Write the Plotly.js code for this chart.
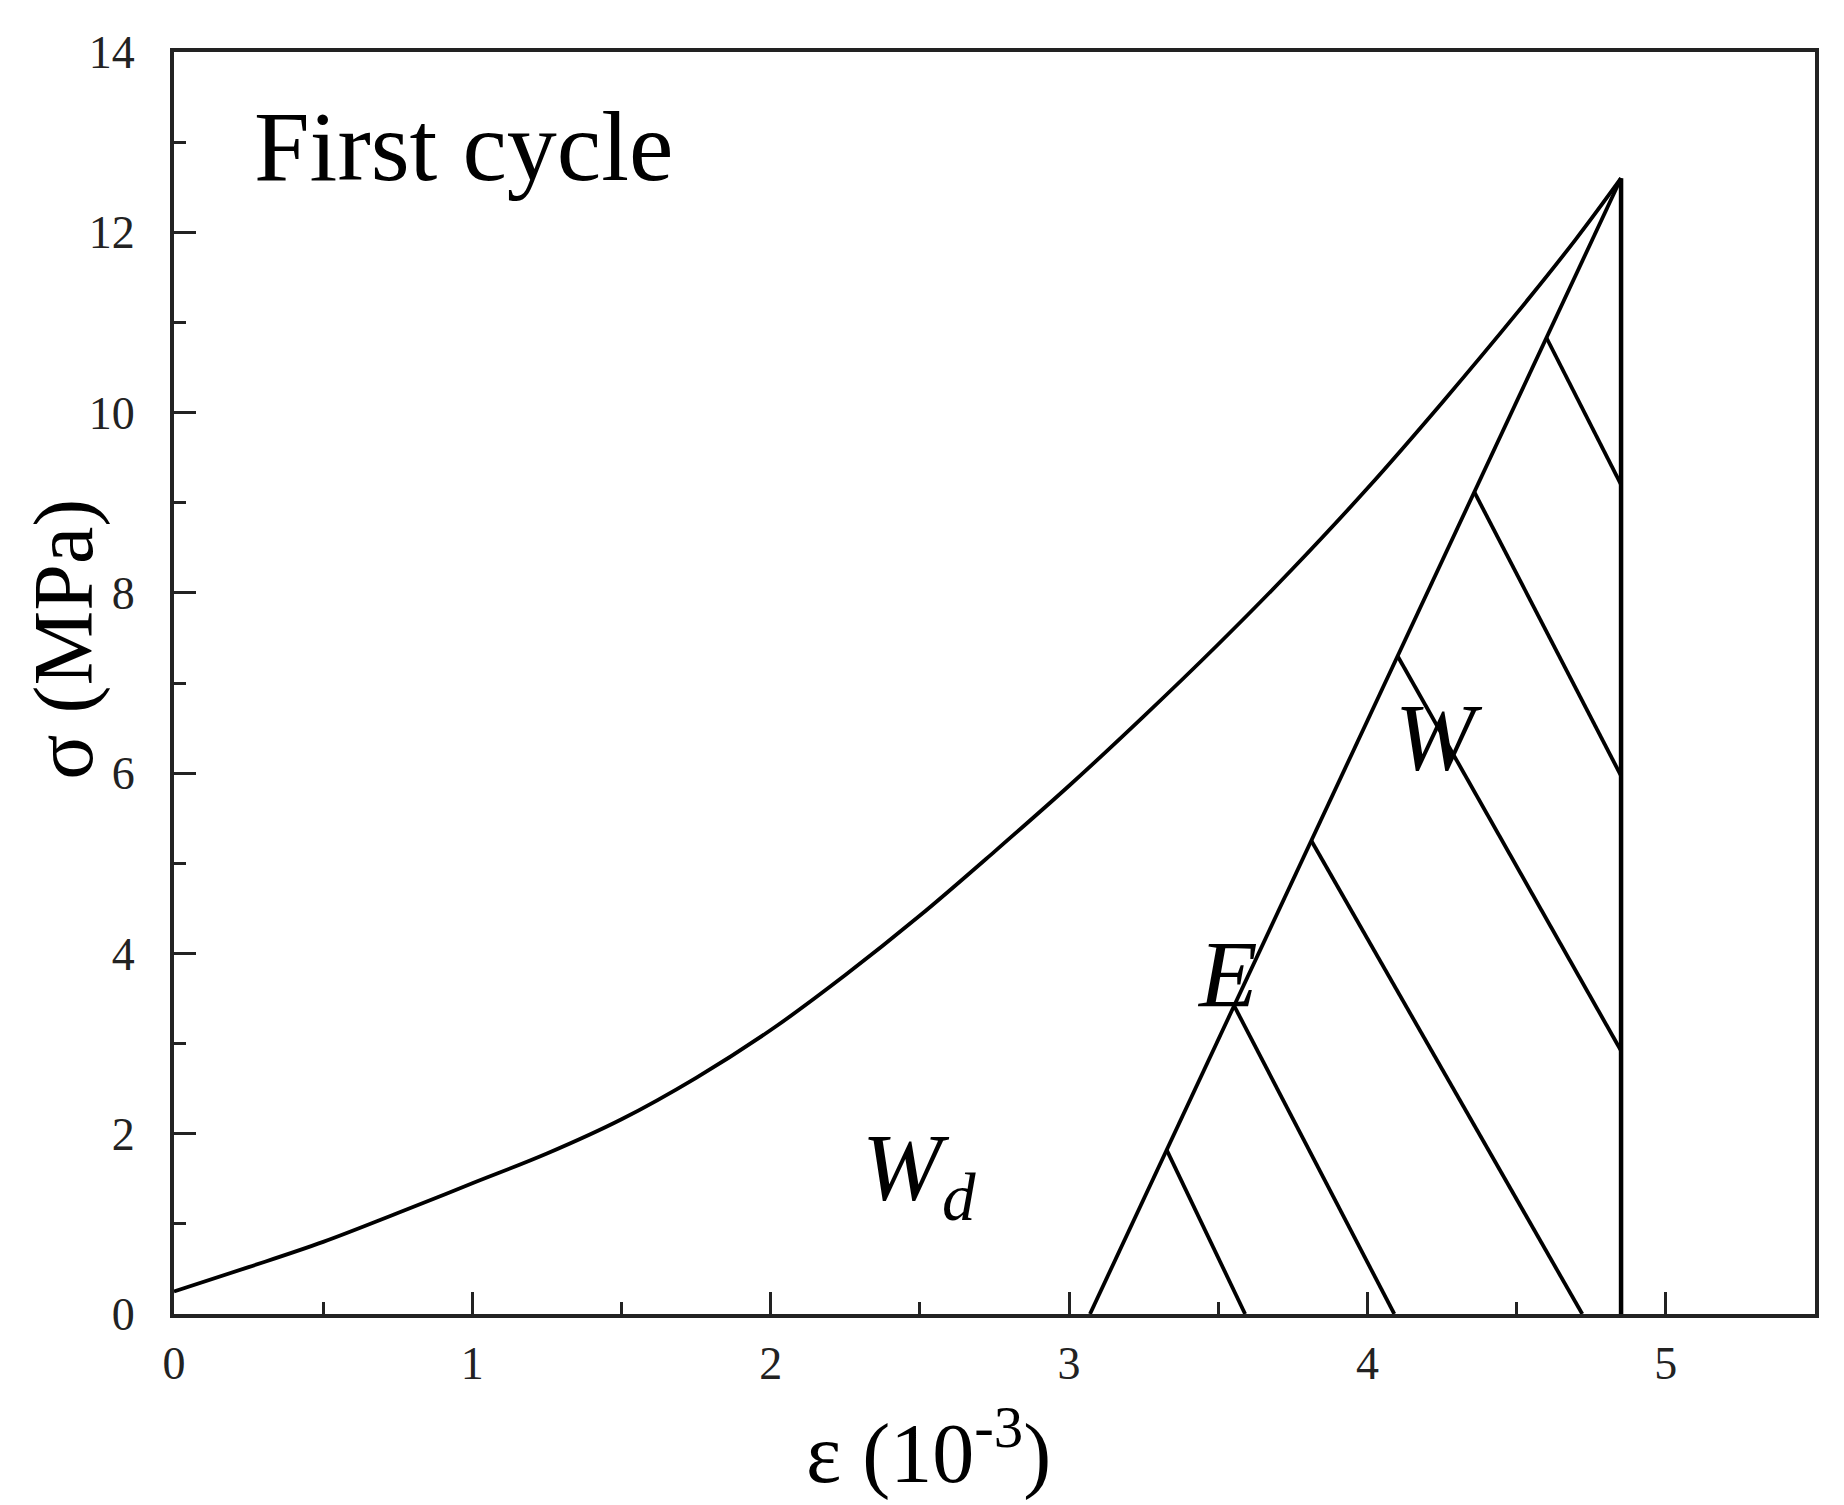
<!DOCTYPE html>
<html>
<head>
<meta charset="utf-8">
<script src="https://cdn.plot.ly/plotly-3.0.1.min.js"></script>
<style>html,body{margin:0;padding:0;background:#fff;}#chart{width:1844px;height:1505px;}</style>
</head>
<body>
<div id="chart"></div>
<script>
// Loading curve (first cycle)
const loadStrain = [0, 0.25, 0.5, 0.75, 1.0, 1.25, 1.5, 1.75, 2.0, 2.25, 2.5, 2.75, 3.0, 3.25, 3.5, 3.75, 4.0, 4.25, 4.5, 4.7, 4.85];
const loadStress = [0.25, 0.52, 0.8, 1.12, 1.45, 1.78, 2.16, 2.62, 3.15, 3.76, 4.42, 5.13, 5.86, 6.63, 7.43, 8.27, 9.16, 10.11, 11.1, 11.93, 12.6];
// Unloading line
const unloadStrain = [4.85, 3.07];
const unloadStress = [12.6, 0];
// Vertical boundary at peak strain
const peakStrain = [4.85, 4.85];
const peakStress = [12.6, 0];
// Hatch lines of elastic energy region
const hatchStartX = [4.60, 4.358, 4.101, 3.812, 3.553, 3.327];
const hatchStartY = [10.83, 9.12, 7.30, 5.25, 3.42, 1.82];
const hatchEndX = [4.85, 4.85, 4.85, 4.72, 4.09, 3.59];
const hatchEndY = [9.20, 5.97, 2.92, 0, 0, 0];
// Tick labels
const xTicks = [0, 1, 2, 3, 4, 5];
const yTicks = [0, 2, 4, 6, 8, 10, 12, 14];

const lineStyle = {color: '#000', width: 3.8};
const hx = [], hy = [];
for (let i = 0; i < hatchStartX.length; i++) {
  hx.push(hatchStartX[i], hatchEndX[i], null);
  hy.push(hatchStartY[i], hatchEndY[i], null);
}

const traces = [
  {x: loadStrain, y: loadStress, mode: 'lines', line: Object.assign({shape: 'spline', smoothing: 1}, lineStyle), name: 'loading'},
  {x: unloadStrain, y: unloadStress, mode: 'lines', line: lineStyle, name: 'unloading'},
  {x: peakStrain, y: peakStress, mode: 'lines', line: {color: '#000', width: 4.5}, name: 'peak'},
  {x: hx, y: hy, mode: 'lines', line: lineStyle, name: 'hatch', connectgaps: false}
];

const serif = 'Liberation Serif, Times New Roman, serif';
const layout = {
  width: 1844, height: 1505,
  margin: {l: 174, r: 29, t: 52, b: 191},
  paper_bgcolor: '#fff', plot_bgcolor: '#fff',
  showlegend: false,
  font: {family: serif, color: '#000'},
  xaxis: {
    range: [0, 5.5], tickvals: xTicks, ticktext: xTicks.map(String),
    ticks: 'inside', ticklen: 22, tickwidth: 3, tickcolor: '#222',
    minor: {ticks: 'inside', dtick: 0.5, ticklen: 12, tickwidth: 3, tickcolor: '#222'},
    showline: true, linecolor: '#222', linewidth: 4, mirror: true,
    showgrid: false, zeroline: false,
    tickfont: {family: serif, size: 46, color: '#222'}, ticklabelstandoff: 6
  },
  yaxis: {
    range: [0, 14], tickvals: yTicks, ticktext: yTicks.map(String),
    ticks: 'inside', ticklen: 22, tickwidth: 3, tickcolor: '#222',
    minor: {ticks: 'inside', dtick: 1, ticklen: 12, tickwidth: 3, tickcolor: '#222'},
    showline: true, linecolor: '#222', linewidth: 4, mirror: true,
    showgrid: false, zeroline: false,
    tickfont: {family: serif, size: 46, color: '#222'}, ticklabelstandoff: 26
  },
  annotations: [
    {text: 'First cycle', x: 0.26, y: 12.95, xref: 'x', yref: 'y', xanchor: 'left', yanchor: 'middle', showarrow: false, font: {family: serif, size: 100, color: '#000'}},
    {text: '<i>W</i>', x: 4.24, y: 6.39, xref: 'x', yref: 'y', xanchor: 'center', yanchor: 'middle', showarrow: false, font: {family: serif, size: 96, color: '#000'}},
    {text: '<i>E</i>', x: 3.53, y: 3.77, xref: 'x', yref: 'y', xanchor: 'center', yanchor: 'middle', showarrow: false, font: {family: serif, size: 96, color: '#000'}},
    {text: '<i>W<sub>d</sub></i>', x: 2.30, y: 1.55, xref: 'x', yref: 'y', xanchor: 'left', yanchor: 'middle', showarrow: false, font: {family: serif, size: 96, color: '#000'}},
    {text: 'ε (10<sup>-3</sup>)', x: 2.53, y: -0.106, xref: 'x', yref: 'paper', xanchor: 'center', yanchor: 'middle', showarrow: false, font: {family: serif, size: 84, color: '#000'}},
    {text: 'σ (MPa)', x: -0.067, y: 7.48, xref: 'paper', yref: 'y', xanchor: 'center', yanchor: 'middle', textangle: -90, showarrow: false, font: {family: serif, size: 84, color: '#000'}}
  ]
};

Plotly.newPlot('chart', traces, layout, {staticPlot: true, displayModeBar: false});
</script>
</body>
</html>
